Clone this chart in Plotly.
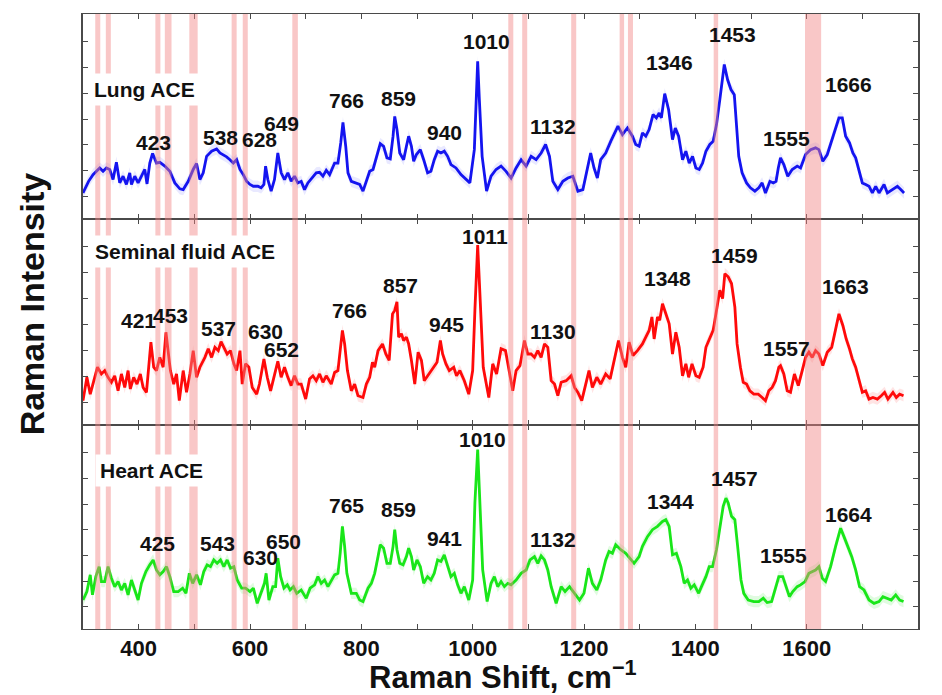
import plotly.graph_objects as go
from plotly.subplots import make_subplots

# ---------------- data (Raman shift, cm-1 / intensity in arbitrary units) ----------------
lung_x = [300,310,318,324,330,336,342,348,354,360,366,372,378,384,387,393,399,405,411,415,420,425,432,438,447,456,465,474,480,489,498,504,510,516,522,531,540,546,552,558,564,570,576,582,588,594,600,606,614,620,625,628,632,638,644,650,656,662,668,674,680,686,692,698,704,713,719,725,731,737,743,752,758,763,767,772,776,782,791,
          797,803,809,815,821,827,834,840,846,852,857,860,864,869,876,881,885,890,894,899,906,912,919,925,931,937,943,949,955,961,970,979,988,995,1003,1006,1009,1012,1017,1025,1033,1042,1051,1060,1069,1078,1087,1096,1105,1114,1123,1131,1138,1144,1153,1162,1171,1180,1189,1198,1204,1212,1218,1224,1230,1239,1248,1257,1261,1269,1278,1287,1293,
          1299,1305,1311,1317,1324,1330,1335,1339,1345,1352,1359,1364,1370,1377,1383,1389,1395,1401,1407,1413,1419,1426,1432,1438,1444,1449,1452,1458,1464,1470,1474,1478,1484,1492,1499,1507,1514,1520,1526,1534,1540,1545,1549,1553,1559,1566,1574,1583,1589,1598,1607,1616,1622,1629,1637,1646,1653,1658,1664,1670,1677,1683,1688,1694,1700,1706,1712,1718,1724,1730,1739,1745,1754,1763,1769,1775]
lung_y = [0.14,0.59,0.85,0.98,1.11,0.98,1.11,1.05,0.66,1.33,0.53,0.79,0.47,0.92,0.47,0.79,0.53,0.79,1.05,0.49,1.30,1.67,1.30,1.33,1.18,0.98,0.53,0.30,0.27,0.59,1.05,1.28,0.66,0.92,1.56,1.76,1.85,1.69,1.63,1.54,1.43,1.30,1.43,1.05,0.85,0.59,0.47,0.40,0.40,0.34,0.47,1.18,0.66,0.21,0.66,1.69,0.92,0.66,0.92,0.59,0.79,0.53,0.59,0.27,0.53,0.79,0.92,0.94,0.79,1.02,0.85,1.30,1.30,2.08,2.88,1.95,0.92,0.59,0.53,
          0.47,0.21,0.59,0.98,1.05,1.56,2.05,1.95,1.50,1.46,2.34,3.11,2.60,1.69,1.43,1.95,2.34,1.95,1.37,1.63,1.82,1.43,0.92,0.98,1.43,1.76,1.69,1.76,1.56,1.24,1.11,0.85,0.66,0.53,1.82,3.76,5.25,3.76,1.56,0.21,0.79,1.05,1.18,0.98,0.72,1.11,1.43,1.18,1.56,1.43,1.69,2.02,1.56,0.59,0.27,0.59,0.72,0.79,0.21,0.27,0.85,1.69,1.11,0.72,1.43,1.69,2.14,2.53,2.73,2.40,2.66,2.34,2.02,
          1.95,2.47,2.34,2.60,3.18,3.05,3.24,3.05,3.99,3.37,2.21,2.66,2.34,1.43,1.76,1.30,1.56,1.11,1.05,1.30,1.76,2.02,2.14,2.79,3.76,4.53,5.12,4.53,4.15,3.95,2.73,1.56,0.92,0.53,0.34,0.21,0.34,0.53,0.14,0.59,0.53,0.59,1.11,1.50,1.24,0.79,1.05,1.18,1.11,1.63,1.82,1.89,1.82,1.37,1.63,2.21,2.66,3.05,3.05,2.34,2.08,1.69,1.50,1.05,0.53,0.47,0.40,0.14,0.40,0.14,0.47,0.14,0.27,0.40,0.27,0.14]

seminal_x = [300,307,313,319,326,333,339,345,351,357,363,369,375,381,385,391,397,403,408,414,417,422,427,432,438,444,449,453,457,463,468,473,480,486,492,498,504,510,519,525,531,537,543,548,553,559,565,571,576,582,586,592,598,604,612,617,625,631,637,644,650,656,662,668,674,680,686,692,700,707,713,719,725,731,737,746,752,758,761,766,770,775,782,788,794,
             803,809,815,820,824,830,838,844,850,856,860,864,867,872,876,881,885,890,896,902,908,913,922,931,936,942,946,952,958,966,971,977,985,993,1000,1004,1009,1013,1019,1029,1036,1043,1051,1059,1066,1072,1078,1085,1093,1099,1105,1111,1117,1123,1129,1135,1141,1147,1153,1159,1168,1177,1183,1189,1196,1204,1209,1215,1223,1230,1239,1247,1256,1262,1269,1275,1281,1288,1296,
             1305,1311,1317,1322,1326,1332,1336,1341,1347,1353,1359,1365,1371,1377,1383,1388,1394,1401,1407,1414,1419,1426,1432,1438,1444,1449,1453,1459,1465,1471,1475,1481,1486,1492,1498,1505,1513,1520,1526,1532,1538,1544,1550,1553,1559,1565,1571,1578,1585,1592,1598,1604,1610,1616,1622,1629,1637,1645,1652,1658,1665,1671,1677,1682,1688,1694,1700,1706,1712,1719,1727,1734,1740,1746,1755,1761,1767,1774]
seminal_y = [0.07,0.97,0.32,0.78,1.36,1.10,1.23,0.97,0.78,1.03,0.45,1.10,0.58,1.23,0.52,0.97,0.71,1.10,0.58,0.39,1.23,2.33,1.36,1.23,1.74,1.36,2.71,2.00,1.23,0.71,1.10,0.07,1.23,0.39,1.10,2.00,0.97,1.36,1.74,2.07,1.74,2.13,2.00,2.35,2.13,1.87,2.00,1.49,1.23,2.00,0.71,1.49,1.36,0.58,0.32,0.71,1.68,0.97,0.45,1.10,1.59,0.97,1.36,0.97,0.65,1.03,0.71,0.71,0.13,0.91,1.03,0.84,1.10,0.78,1.03,0.71,1.16,1.23,1.87,2.78,2.26,1.23,0.45,0.71,0.26,
             0.19,0.71,0.97,1.55,1.36,2.00,2.26,1.87,1.62,3.42,3.55,3.88,2.52,2.65,2.39,2.52,2.26,1.62,0.71,1.94,1.62,0.84,1.10,1.36,1.55,2.39,1.87,1.49,1.23,1.36,1.03,1.23,0.84,0.32,1.23,3.55,6.07,4.20,1.36,0.19,1.49,1.10,2.07,2.00,1.10,0.45,1.23,1.42,2.39,1.87,1.87,1.74,2.00,1.74,2.26,2.13,0.84,0.71,0.26,0.78,0.84,1.03,0.58,0.39,0.07,0.84,1.23,0.58,0.97,0.71,1.10,0.91,1.74,2.39,1.74,1.36,2.33,1.81,2.00,
             2.26,2.52,2.78,3.30,2.45,3.30,3.17,3.81,3.42,3.04,1.87,2.71,2.13,1.03,1.49,0.97,1.49,1.03,0.97,1.36,2.13,2.45,2.78,3.55,4.33,4.01,4.97,4.85,4.59,3.68,2.26,1.36,0.78,0.71,0.45,0.32,0.32,0.19,0.07,0.45,0.58,0.84,1.36,1.42,1.10,0.45,0.39,1.10,0.65,1.23,1.74,1.94,1.74,2.00,1.87,1.42,1.94,2.13,2.78,3.42,2.97,2.45,2.07,1.68,1.36,0.84,0.39,0.45,0.13,0.19,0.13,0.26,0.39,0.13,0.39,0.19,0.32,0.26]

heart_x = [300,307,313,317,323,329,333,339,345,351,357,363,369,375,381,387,393,399,405,413,420,426,432,438,444,450,456,463,471,479,485,491,497,504,511,517,523,529,535,541,547,553,559,565,571,577,585,592,600,606,613,619,626,629,634,641,646,650,655,661,667,672,678,684,692,701,708,716,722,728,734,740,746,752,758,762,766,770,774,782,791,
           797,803,812,818,824,830,834,840,846,852,857,860,864,869,875,881,885,890,894,900,906,912,919,925,931,937,943,949,955,961,967,973,979,985,993,1000,1004,1009,1013,1018,1026,1033,1039,1045,1051,1057,1063,1069,1078,1087,1096,1103,1111,1117,1123,1129,1135,1141,1150,1159,1166,1174,1183,1192,1200,1208,1215,1223,1230,1239,1245,1251,1257,1266,1275,1284,1290,
           1299,1305,1314,1323,1332,1341,1347,1353,1359,1366,1374,1380,1386,1392,1398,1406,1411,1419,1425,1431,1438,1444,1450,1455,1459,1465,1471,1476,1482,1487,1495,1505,1514,1522,1529,1537,1544,1550,1557,1563,1569,1575,1583,1589,1597,1604,1611,1616,1622,1628,1634,1643,1652,1661,1667,1673,1681,1688,1695,1703,1712,1721,1730,1737,1745,1752,1760,1767,1774]
heart_y = [0.26,0.59,1.24,0.46,1.17,1.56,0.98,0.98,1.56,1.11,0.78,0.98,0.65,0.91,0.46,1.04,0.65,0.26,0.91,1.37,1.63,1.82,1.43,1.24,1.37,1.56,1.17,0.59,0.59,0.72,0.52,1.30,0.91,1.24,0.85,1.37,1.63,1.56,1.82,1.69,1.82,1.56,1.82,1.50,1.56,1.04,0.72,0.72,0.59,0.72,0.13,0.46,0.91,1.30,0.26,0.78,0.78,1.89,1.17,0.72,0.85,0.65,0.78,0.52,0.65,0.33,0.72,0.85,1.17,0.91,1.04,0.78,1.04,1.24,1.30,2.08,3.13,2.35,1.30,0.52,0.52,
           0.26,0.20,0.72,0.91,1.30,1.95,2.41,2.28,1.69,1.69,2.35,3.00,2.22,1.69,1.63,1.95,2.28,1.95,1.43,1.82,1.56,0.91,1.17,1.04,1.30,1.82,1.76,2.02,1.56,1.17,1.30,0.85,0.52,0.78,0.26,1.04,4.04,6.12,4.04,1.43,0.20,0.91,1.17,0.78,0.98,0.78,0.91,0.85,1.04,1.30,1.43,1.82,1.95,1.69,1.98,1.82,1.43,0.78,0.13,0.78,0.59,0.78,0.52,0.26,0.52,1.50,0.91,0.65,1.04,1.82,2.15,2.08,2.41,2.22,2.08,1.82,1.69,
           1.95,2.35,2.73,3.00,3.13,3.32,3.39,3.13,2.02,2.08,1.56,0.91,1.04,0.72,0.85,0.52,0.78,1.17,1.56,1.56,2.22,3.13,3.91,4.23,4.04,3.52,3.39,2.35,1.04,0.52,0.26,0.20,0.20,0.33,0.16,0.20,0.78,1.17,1.17,0.78,0.39,0.59,0.78,0.85,0.98,1.30,1.37,1.43,1.56,1.11,0.98,1.56,2.35,3.06,2.73,2.41,1.95,1.43,0.78,0.65,0.26,0.13,0.20,0.39,0.33,0.26,0.46,0.26,0.20]

spread = 0.22  # half-width of the shaded variability band

# highlighted spectral regions (cm-1)
band_start = [322, 341, 430, 447, 491, 567, 587, 676, 1064, 1089, 1177, 1264, 1279, 1433, 1597]
band_end   = [331, 350, 439, 459, 506, 576, 596, 686, 1073, 1098, 1186, 1272, 1288, 1441, 1626]

panel_names = ["Lung ACE", "Seminal fluid ACE", "Heart ACE"]

lung_peaks = ["423", "538", "628", "649", "766", "859", "940", "1010", "1132", "1346", "1453", "1555", "1666"]
seminal_peaks = ["421", "453", "537", "630", "652", "766", "857", "945", "1011", "1130", "1348", "1459", "1557", "1663"]
heart_peaks = ["425", "543", "630", "650", "765", "859", "941", "1010", "1132", "1344", "1457", "1555", "1664"]

x_tick_values = [400, 500, 600, 700, 800, 900, 1000, 1100, 1200, 1300, 1400, 1500, 1600, 1700, 1800]
x_tick_labels = ["400", "", "600", "", "800", "", "1000", "", "1200", "", "1400", "", "1600", "", "1800"]

# ---------------- layout helpers (label placement) ----------------
lung_lab_pos = [(426, 2.10), (547, 2.30), (617, 2.21), (656, 2.83), (774, 3.73), (866, 3.82), (949, 2.49),
                (1024, 6.02), (1144, 2.72), (1353, 5.21), (1466, 6.28), (1564, 2.27), (1675, 4.34)]
seminal_lab_pos = [(399, 3.17), (458, 3.36), (543, 2.84), (628, 2.75), (656, 2.03), (778, 3.53), (870, 4.52),
                   (953, 3.00), (1023, 6.42), (1145, 2.75), (1350, 4.78), (1470, 5.69), (1563, 2.09), (1669, 4.48)]
heart_lab_pos = [(434, 2.45), (541, 2.45), (619, 1.93), (661, 2.54), (774, 3.93), (867, 3.80), (949, 2.67),
                 (1018, 6.51), (1145, 2.63), (1356, 4.10), (1471, 4.98), (1559, 1.98), (1675, 3.61)]
name_pos = [(311, 4.15), (312, 5.81), (322, 5.31)]

FONT = "Liberation Sans, Arial, Helvetica, sans-serif"

series = [
    (lung_x, lung_y, "#1414F0", "rgba(100,100,255,0.14)", lung_peaks, lung_lab_pos),
    (seminal_x, seminal_y, "#FF0A0A", "rgba(255,90,90,0.16)", seminal_peaks, seminal_lab_pos),
    (heart_x, heart_y, "#19E619", "rgba(60,230,60,0.16)", heart_peaks, heart_lab_pos),
]

fig = make_subplots(rows=3, cols=1, shared_xaxes=False, vertical_spacing=0)

annotations = []
shapes = []
for i, (xs, ys, col, fillc, peaks, lpos) in enumerate(series):
    row = i + 1
    upper = [v + spread for v in ys]
    lower = [v - spread for v in ys]
    fig.add_trace(go.Scatter(x=xs, y=upper, mode="lines", line=dict(width=0, color=fillc),
                             hoverinfo="skip", showlegend=False), row=row, col=1)
    fig.add_trace(go.Scatter(x=xs, y=lower, mode="lines", line=dict(width=0, color=fillc),
                             fill="tonexty", fillcolor=fillc, hoverinfo="skip", showlegend=False), row=row, col=1)
    fig.add_trace(go.Scatter(x=xs, y=ys, mode="lines", line=dict(width=2.8, color=col),
                             showlegend=False), row=row, col=1)

    xref = "x" if row == 1 else f"x{row}"
    yref = "y" if row == 1 else f"y{row}"
    for s, e in zip(band_start, band_end):
        shapes.append(dict(type="rect", xref=xref, yref=f"{yref} domain", x0=s, x1=e, y0=0, y1=1,
                           fillcolor="rgba(242,130,130,0.45)", line=dict(width=0), layer="above"))
    for txt, (lx, ly) in zip(peaks, lpos):
        annotations.append(dict(x=lx, y=ly, xref=xref, yref=yref, text=f"<b>{txt}</b>", showarrow=False,
                                font=dict(family=FONT, size=21, color="#111111"),
                                xanchor="center", yanchor="middle"))
    nx, ny = name_pos[i]
    annotations.append(dict(x=nx, y=ny, xref=xref, yref=yref, text=f"<b>{panel_names[i]}</b>", showarrow=False,
                            font=dict(family=FONT, size=21, color="#111111"), bgcolor="white",
                            borderpad=4, xanchor="left", yanchor="middle"))

# axis titles
annotations.append(dict(x=0.503, y=-0.074, xref="paper", yref="paper",
                        text="<b>Raman Shift, cm<sup>\u22121</sup></b>", showarrow=False,
                        font=dict(family=FONT, size=31, color="#111111"), xanchor="center", yanchor="middle"))
annotations.append(dict(x=-0.061, y=0.528, xref="paper", yref="paper", text="<b>Raman Intensity</b>",
                        showarrow=False, textangle=-90,
                        font=dict(family=FONT, size=34, color="#111111"), xanchor="center", yanchor="middle"))

domains = [[410 / 615, 1.0], [204 / 615, 410 / 615], [0.0, 204 / 615]]
for i in range(3):
    row = i + 1
    fig.update_xaxes(range=[300, 1800], showline=True, linecolor="#4a4a4a", linewidth=1.1,
                     mirror="ticks", ticks="inside", ticklen=5, tickwidth=1.2, tickcolor="#4a4a4a",
                     tickvals=x_tick_values, ticktext=x_tick_labels,
                     showticklabels=(row == 3), showgrid=False, zeroline=False,
                     tickfont=dict(family=FONT, size=22, color="#111111", weight="bold"),
                     row=row, col=1)
    fig.update_yaxes(range=[-0.87, 7.08], domain=domains[i], showline=True, linecolor="#4a4a4a",
                     linewidth=1.6, mirror="ticks", ticks="inside", ticklen=5, tickwidth=1.2,
                     tickcolor="#4a4a4a", tickvals=[0, 1, 2, 3, 4, 5, 6], showticklabels=False,
                     showgrid=False, zeroline=False, row=row, col=1)

fig.update_layout(width=942, height=695, margin=dict(l=83, r=24, t=14, b=66),
                  plot_bgcolor="white", paper_bgcolor="white",
                  shapes=shapes, annotations=annotations, showlegend=False)

fig.write_html("out.html")
